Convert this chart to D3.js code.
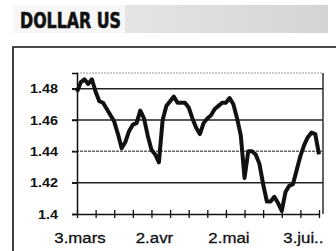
<!DOCTYPE html>
<html>
<head>
<meta charset="utf-8">
<script src="https://cdn.jsdelivr.net/npm/d3@7"></script>
<style>
  body { margin: 0; background: #fff; }
  svg { display: block; }
</style>
</head>
<body>
<div class="chart"></div>
<script>
// dollar rate, one value per business day
const rates = [
  1.478, 1.484, 1.486, 1.483, 1.486, 1.478, 1.472, 1.471, 1.467, 1.463,
  1.459, 1.451, 1.442, 1.446, 1.453, 1.457, 1.458, 1.466, 1.461, 1.450,
  1.441, 1.438, 1.433, 1.460, 1.469, 1.472, 1.475, 1.471, 1.471, 1.471,
  1.468, 1.461, 1.455, 1.451, 1.458, 1.461, 1.463, 1.467, 1.469, 1.471,
  1.471, 1.474, 1.470, 1.461, 1.450, 1.423, 1.440, 1.440, 1.438, 1.432,
  1.419, 1.408, 1.408, 1.411, 1.407, 1.402, 1.414, 1.418, 1.419, 1.428,
  1.437, 1.444, 1.449, 1.452, 1.451, 1.438
];
const xLabels = ["3.mars", "2.avr", "2.mai", "3.jui.."];
const yTicks = [1.4, 1.42, 1.44, 1.46, 1.48];
const tickStep = 5;      // tick every 5 days
const labelStep = 20;    // label every 4th tick

const width = 336, height = 251;
const svg = d3.select(".chart").append("svg")
  .attr("width", width)
  .attr("height", height);

// scanned print looks a bit wider than the font
function widen(sel, k) {
  sel.each(function() {
    const w = this.getComputedTextLength();
    d3.select(this).attr("textLength", w * k).attr("lengthAdjust", "spacingAndGlyphs");
  });
}

// title band
const defs = svg.append("defs");
const grad = defs.append("linearGradient").attr("id", "band");
grad.append("stop").attr("offset", "0%").attr("stop-color", "#f4f4f4");
grad.append("stop").attr("offset", "30%").attr("stop-color", "#e6e6e6");
grad.append("stop").attr("offset", "100%").attr("stop-color", "#d4d4d4");

svg.append("rect")
  .attr("x", 13).attr("y", 5)
  .attr("width", 315).attr("height", 28)
  .attr("fill", "url(#band)");
svg.append("rect")
  .attr("x", 13).attr("y", 5)
  .attr("width", 112).attr("height", 28)
  .attr("fill", "#f7f7f7");

svg.append("text")
  .attr("x", 20).attr("y", 28)
  .attr("font-family", "'Liberation Sans Narrow', 'DejaVu Sans Condensed', Arial, sans-serif")
  .attr("font-weight", "bold")
  .attr("font-size", 22)
  .attr("textLength", 101)
  .attr("lengthAdjust", "spacingAndGlyphs")
  .attr("fill", "#111")
  .attr("stroke", "#111")
  .attr("stroke-width", 0.6)
  .text("DOLLAR US");

// outer frame
svg.append("path")
  .attr("d", "M13,252V47H340")
  .attr("fill", "none")
  .attr("stroke", "#111")
  .attr("stroke-width", 1.6);

// scales
const x = d3.scaleLinear().domain([0, rates.length - 1]).range([77, 319]);
const y = d3.scaleLinear().domain([1.4, 1.49]).range([214, 73]);

// plot border (top dotted, right solid)
svg.append("line")
  .attr("x1", x(0)).attr("x2", 323)
  .attr("y1", y(1.49)).attr("y2", y(1.49))
  .attr("stroke", "#999").attr("stroke-width", 1.2)
  .attr("stroke-dasharray", "2,1");
svg.append("line")
  .attr("x1", 323).attr("x2", 323)
  .attr("y1", y(1.49)).attr("y2", y(1.4))
  .attr("stroke", "#222").attr("stroke-width", 1.4);

// gridlines
svg.selectAll(".grid")
  .data(yTicks.filter(d => d > 1.4))
  .enter().append("line")
  .attr("x1", 72).attr("x2", 323)
  .attr("y1", d => y(d)).attr("y2", d => y(d))
  .attr("stroke", d => d === 1.44 ? "#666" : "#222")
  .attr("stroke-dasharray", d => d === 1.44 ? "3,1" : null)
  .attr("stroke-width", 1.5);

// y axis
const yAxis = svg.append("g")
  .attr("transform", `translate(${x(0)},0)`)
  .call(d3.axisLeft(y).tickValues(yTicks).tickSize(5).tickPadding(14)
    .tickFormat(d => String(+d.toFixed(2))));
yAxis.select(".domain").attr("stroke", "#111").attr("stroke-width", 1.5);
yAxis.selectAll(".tick line").attr("stroke", "#111").attr("stroke-width", 1.5);
yAxis.selectAll("text")
  .attr("font-family", "Arial, 'Liberation Sans', sans-serif")
  .attr("font-size", 12.5)
  .attr("font-weight", "bold")
  .attr("fill", "#111")
  .call(widen, 1.15);

// x axis
const xTickVals = d3.range(0, rates.length, tickStep);
const xAxis = svg.append("g")
  .attr("transform", `translate(0,${y(1.4)})`)
  .call(d3.axisBottom(x).tickValues(xTickVals).tickSizeInner(4).tickSizeOuter(0)
    .tickFormat(() => ""));
xAxis.select(".domain").attr("stroke", "#111").attr("stroke-width", 1.5);
xAxis.selectAll(".tick line")
  .attr("y1", -4).attr("y2", 4)
  .attr("stroke", "#111").attr("stroke-width", 1.3);

svg.selectAll(".xlabel")
  .data(xLabels)
  .enter().append("text")
  .attr("x", (d, i) => x(i * labelStep) + 3)
  .attr("y", 243)
  .attr("text-anchor", "middle")
  .attr("font-family", "Arial, 'Liberation Sans', sans-serif")
  .attr("font-size", 14)
  .attr("fill", "#111")
  .attr("stroke", "#111")
  .attr("stroke-width", 0.3)
  .text(d => d)
  .call(widen, 1.2);

// rate line
const line = d3.line()
  .x((d, i) => x(i))
  .y(d => y(d));
svg.append("path")
  .datum(rates)
  .attr("d", line)
  .attr("fill", "none")
  .attr("stroke", "#111")
  .attr("stroke-width", 4)
  .attr("stroke-linejoin", "round");
</script>
</body>
</html>
